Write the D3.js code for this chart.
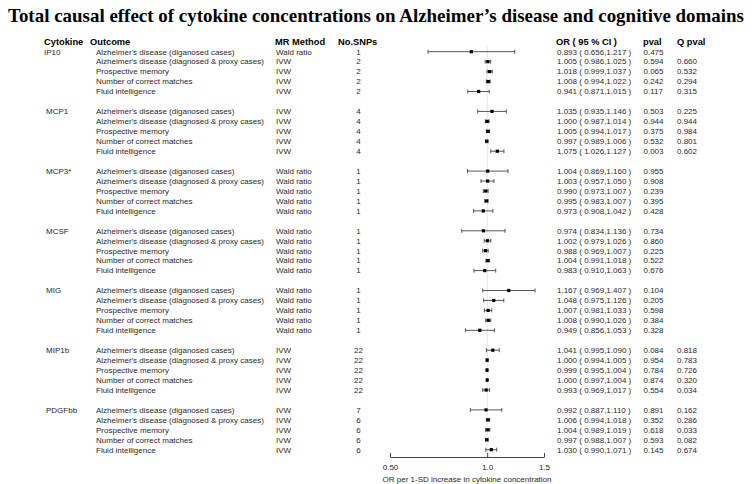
<!DOCTYPE html>
<html><head><meta charset="utf-8">
<script src="https://cdn.jsdelivr.net/npm/d3@7"></script>
<style>body{margin:0;background:#fff}svg{display:block}</style>
</head><body>
<svg id="c" width="752" height="484"></svg>
<script>
const cytokines = ["IP10","MCP1","MCP3*","MCSF","MIG","MIP1b","PDGFbb"];
const outcomes = ["Alzheimer's disease (diganosed cases)","Alzheimer's disease (diagnosed & proxy cases)","Prospective memory","Number of correct matches","Fluid intelligence"];
const methods = [
  ["Wald ratio","IVW","IVW","IVW","IVW"],
  ["IVW","IVW","IVW","IVW","IVW"],
  ["Wald ratio","Wald ratio","Wald ratio","Wald ratio","Wald ratio"],
  ["Wald ratio","Wald ratio","Wald ratio","Wald ratio","Wald ratio"],
  ["Wald ratio","Wald ratio","Wald ratio","Wald ratio","Wald ratio"],
  ["IVW","IVW","IVW","IVW","IVW"],
  ["IVW","IVW","IVW","IVW","IVW"]
];
const snps = [[1,2,2,2,2],[4,4,4,4,4],[1,1,1,1,1],[1,1,1,1,1],[1,1,1,1,1],[22,22,22,22,22],[7,6,6,6,6]];
const orVals = [
  [0.893,1.005,1.018,1.008,0.941],
  [1.035,1.000,1.005,0.997,1.075],
  [1.004,1.003,0.990,0.995,0.973],
  [0.974,1.002,0.988,1.004,0.983],
  [1.167,1.048,1.007,1.008,0.949],
  [1.041,1.000,0.999,1.000,0.993],
  [0.992,1.006,1.004,0.997,1.030]
];
const ciLow = [
  [0.656,0.986,0.999,0.994,0.871],
  [0.935,0.987,0.994,0.989,1.026],
  [0.869,0.957,0.973,0.983,0.908],
  [0.834,0.979,0.969,0.991,0.910],
  [0.969,0.975,0.981,0.990,0.856],
  [0.995,0.994,0.995,0.997,0.969],
  [0.887,0.994,0.989,0.988,0.990]
];
const ciHigh = [
  [1.217,1.025,1.037,1.022,1.015],
  [1.146,1.014,1.017,1.006,1.127],
  [1.160,1.050,1.007,1.007,1.042],
  [1.136,1.026,1.007,1.018,1.063],
  [1.407,1.126,1.033,1.026,1.053],
  [1.090,1.005,1.004,1.004,1.017],
  [1.110,1.018,1.019,1.007,1.071]
];
const pvals = [
  ["0.475","0.594","0.065","0.242","0.117"],
  ["0.503","0.944","0.375","0.532","0.003"],
  ["0.955","0.908","0.239","0.395","0.428"],
  ["0.734","0.860","0.225","0.522","0.676"],
  ["0.104","0.205","0.598","0.384","0.328"],
  ["0.084","0.954","0.784","0.874","0.554"],
  ["0.891","0.352","0.618","0.593","0.145"]
];
const qpvals = [
  ["","0.660","0.532","0.294","0.315"],
  ["0.225","0.944","0.984","0.801","0.602"],
  ["","","","",""],
  ["","","","",""],
  ["","","","",""],
  ["0.818","0.783","0.726","0.320","0.034"],
  ["0.162","0.286","0.033","0.082","0.674"]
];
const headers = ["Cytokine","Outcome","MR Method","No.SNPs","OR ( 95 % CI )","pval","Q pval"];
const tickVals = [0.5,1.0,1.5];
const tickLabels = ["0.50","1.0","1.5"];
const title = "Total causal effect of cytokine concentrations on Alzheimer\u2019s disease and cognitive domains";
const axisTitle = "OR per 1-SD increase in cytokine concentration";

const rows = [];
cytokines.forEach((c,g)=>{
  outcomes.forEach((o,r)=>{
    rows.push({g,r,idx:g*6+r,cyt:c,out:o,method:methods[g][r],snp:snps[g][r],
      or:orVals[g][r],lo:ciLow[g][r],hi:ciHigh[g][r],p:pvals[g][r],q:qpvals[g][r]});
  });
});

const svg = d3.select("#c");
const f3 = d3.format(".3f");
const x = d3.scaleLog().domain([0.5,1.5]).range([390,544]);
const y = d3.scaleLinear().domain([0,40]).range([51.7,449.7]);
const sans = "'Liberation Sans', Arial, sans-serif";

svg.append("text").attr("x",8).attr("y",22)
  .attr("font-family","'Liberation Serif','Times New Roman',serif").attr("font-weight","bold")
  .attr("font-size",19).attr("textLength",736).attr("lengthAdjust","spacingAndGlyphs")
  .attr("fill","#000").text(title);

// headers
const hx = [44,90,275,338,556,643,677];
svg.selectAll("text.h").data(headers).join("text").attr("class","h")
  .attr("x",(d,i)=>hx[i]).attr("y",44.5).attr("font-family",sans).attr("font-weight","bold")
  .attr("font-size",9.3).attr("fill","#000").text(d=>d);

// reference line
svg.append("line").attr("x1",x(1)).attr("x2",x(1)).attr("y1",46).attr("y2",456)
  .attr("stroke","#e4e4e4").attr("stroke-width",1);

const tcol = "#2a2a2a";
const rowG = svg.append("g").attr("font-family",sans).attr("font-size",8).attr("fill",tcol);
rowG.selectAll("text.cyt").data(rows.filter(d=>d.r===0)).join("text").attr("class","cyt")
  .attr("x",d=>d.g===0?44:46).attr("y",d=>y(d.idx)).attr("dy","0.35em").text(d=>d.cyt);
rowG.selectAll("text.out").data(rows).join("text").attr("class","out")
  .attr("x",96).attr("y",d=>y(d.idx)).attr("dy","0.35em").text(d=>d.out);
rowG.selectAll("text.met").data(rows).join("text").attr("class","met")
  .attr("x",276).attr("y",d=>y(d.idx)).attr("dy","0.35em").text(d=>d.method);
rowG.selectAll("text.snp").data(rows).join("text").attr("class","snp")
  .attr("x",358.5).attr("text-anchor","middle").attr("y",d=>y(d.idx)).attr("dy","0.35em").text(d=>d.snp);
rowG.selectAll("text.or").data(rows).join("text").attr("class","or")
  .attr("x",557).attr("y",d=>y(d.idx)).attr("dy","0.35em")
  .text(d=>`${f3(d.or)} ( ${f3(d.lo)},${f3(d.hi)} )`);
rowG.selectAll("text.p").data(rows).join("text").attr("class","p")
  .attr("x",643.5).attr("y",d=>y(d.idx)).attr("dy","0.35em").text(d=>d.p);
rowG.selectAll("text.q").data(rows).join("text").attr("class","q")
  .attr("x",677).attr("y",d=>y(d.idx)).attr("dy","0.35em").text(d=>d.q);

// CI marks
const ci = svg.append("g").attr("stroke","#444").attr("stroke-width",0.9);
ci.selectAll("line.ci").data(rows).join("line").attr("class","ci")
  .attr("x1",d=>x(d.lo)).attr("x2",d=>x(d.hi)).attr("y1",d=>y(d.idx)).attr("y2",d=>y(d.idx));
ci.selectAll("line.capl").data(rows).join("line").attr("class","capl")
  .attr("x1",d=>x(d.lo)).attr("x2",d=>x(d.lo)).attr("y1",d=>y(d.idx)-2).attr("y2",d=>y(d.idx)+2);
ci.selectAll("line.caph").data(rows).join("line").attr("class","caph")
  .attr("x1",d=>x(d.hi)).attr("x2",d=>x(d.hi)).attr("y1",d=>y(d.idx)-2).attr("y2",d=>y(d.idx)+2);
svg.selectAll("rect.pt").data(rows).join("rect").attr("class","pt")
  .attr("x",d=>x(d.or)-1.6).attr("y",d=>y(d.idx)-1.6).attr("width",3.2).attr("height",3.2).attr("fill","#000");

// axis
const ax = d3.axisBottom(x).tickValues(tickVals).tickFormat((d,i)=>tickLabels[i])
  .tickSizeInner(-4).tickSizeOuter(0).tickPadding(7);
const axG = svg.append("g").attr("transform","translate(0,457)").call(ax);
axG.select(".domain").attr("stroke","#444");
axG.selectAll(".tick line").attr("stroke","#444");
axG.selectAll(".tick text").attr("font-family",sans).attr("font-size",8).attr("fill",tcol);
svg.append("text").attr("x",467).attr("y",481.5).attr("text-anchor","middle")
  .attr("font-family",sans).attr("font-size",8).attr("fill",tcol).text(axisTitle);
</script>
</body></html>
